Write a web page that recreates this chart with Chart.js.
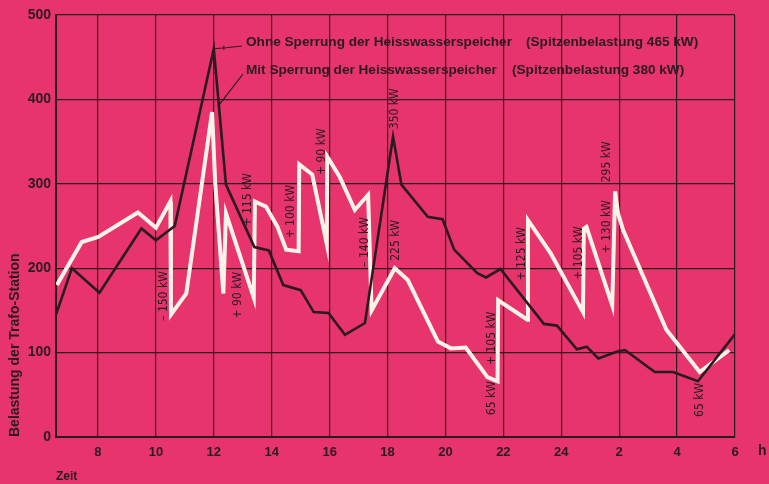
<html lang="de">

<head>
    <meta charset="UTF-8">
    <title>Belastung der Trafo-Station</title>
    <script src="https://cdn.jsdelivr.net/npm/chart.js"></script>
    <style>
        body { margin: 0; background: #e6336c; }
        #wrap { width: 769px; height: 484px; }
    </style>
</head>

<body>
    <div id="wrap"><canvas id="myChart" width="769" height="484"></canvas></div>

    <script>
        // Stunden (7 Uhr bis 6 Uhr morgens, fortlaufend gezählt: 26 = 2 Uhr usw.)
        // ohne Sperrung der Heisswasserspeicher (schwarze Linie)
        let ohneStunde = [6.55, 7.1, 8.05, 9.5, 10.0, 10.65, 12.0, 12.42, 13.4, 13.9, 14.4, 15.0, 15.45, 15.96, 16.53, 17.22, 18.19, 18.48, 19.39, 19.9, 20.3, 21.1, 21.4, 21.9, 23.4, 23.85, 24.54, 24.88, 25.28, 25.91, 26.2, 27.23, 27.86, 28.72, 30.0];
        let ohneLast = [145, 200, 171, 247, 233, 250, 460, 299, 225, 221, 180, 174, 148, 147, 121, 135, 356, 299, 261, 258, 222, 194, 189, 199, 134, 132, 104, 107, 93, 101, 103, 77, 77, 66, 122];

        // mit Sperrung der Heisswasserspeicher (weisse Linie)
        let mitStunde = [6.58, 7.44, 8.01, 9.38, 10.0, 10.5, 10.52, 11.05, 11.94, 12.05, 12.33, 12.42, 13.38, 13.42, 13.8, 14.2, 14.5, 14.93, 14.95, 15.4, 15.9, 15.92, 16.35, 16.87, 17.33, 17.45, 18.25, 18.7, 19.74, 20.19, 20.7, 21.45, 21.8, 21.82, 22.83, 22.85, 23.63, 24.75, 24.78, 24.87, 25.76, 25.86, 25.96, 26.14, 27.63, 28.78, 29.8];
        let mitLast = [180, 231, 237, 266, 248, 279, 145, 170, 385, 300, 170, 265, 165, 279, 273, 249, 222, 220, 323, 311, 229, 332, 308, 269, 287, 150, 200, 186, 113, 105, 106, 71, 66, 162, 139, 257, 218, 148, 247, 249, 156, 291, 265, 245, 127, 77, 103];

        // Achsen
        let zeitTicks = [8, 10, 12, 14, 16, 18, 20, 22, 24, 26, 28, 30];
        let lastTicks = [0, 100, 200, 300, 400, 500];

        // Beschriftungen an den Kurven (Mitte der senkrechten Texte)
        let notizText = ["– 150 kW", "+ 90 kW", "+ 115 kW", "+ 100 kW", "+ 90 kW", "– 140 kW", "350 kW", "225 kW", "65 kW", "+ 105 kW", "+ 125 kW", "+ 105 kW", "+ 130 kW", "295 kW", "65 kW"];
        let notizStunde = [10.27, 12.84, 13.17, 14.66, 15.72, 17.23, 18.26, 18.3, 21.62, 21.62, 22.65, 24.61, 25.57, 25.57, 28.8];
        let notizLast = [167, 168, 281, 267, 338, 231, 389, 233, 46, 117, 217, 218, 249, 326, 44];

        let tinte = '#2b1a22';
        let pink = '#e7346d';

        let ohnePunkte = ohneStunde.map((h, i) => ({ x: h, y: ohneLast[i] }));
        let mitPunkte = mitStunde.map((h, i) => ({ x: h, y: mitLast[i] }));

        // rosa Hintergrund
        let hintergrund = {
            id: 'hintergrund',
            beforeDraw(chart) {
                let c = chart.ctx;
                c.save();
                c.fillStyle = pink;
                c.fillRect(0, 0, chart.width, chart.height);
                c.restore();
            }
        };

        // Texte, Hinweislinien und "h"
        let texte = {
            id: 'texte',
            afterDatasetsDraw(chart) {
                let c = chart.ctx;
                let xs = chart.scales.x, ys = chart.scales.y;
                c.save();
                c.fillStyle = tinte;
                c.textAlign = 'center';
                c.textBaseline = 'middle';
                c.font = '12px "DejaVu Sans Condensed", "DejaVu Sans"';
                for (let i = 0; i < notizText.length; i++) {
                    c.save();
                    c.translate(xs.getPixelForValue(notizStunde[i]), ys.getPixelForValue(notizLast[i]));
                    c.rotate(-Math.PI / 2);
                    c.fillText(notizText[i], 0, 0);
                    c.restore();
                }

                // Legende
                c.textAlign = 'left';
                c.font = 'bold 13.6px "Liberation Sans"';
                c.fillText('Ohne Sperrung der Heisswasserspeicher', 246, 42);
                c.fillText('(Spitzenbelastung 465 kW)', 526, 42);
                c.fillText('Mit Sperrung der Heisswasserspeicher', 246, 70);
                c.fillText('(Spitzenbelastung 380 kW)', 512, 70);

                // Hinweislinien zu den Spitzen
                c.strokeStyle = tinte;
                c.lineWidth = 1.2;
                let p1x = xs.getPixelForValue(12.0), p1y = ys.getPixelForValue(460);
                c.beginPath();
                c.moveTo(p1x, p1y);
                c.lineTo(p1x + 12, p1y - 1);
                c.lineTo(242, 46);
                c.stroke();
                c.beginPath();
                c.moveTo(p1x + 10, p1y - 3);
                c.lineTo(p1x + 10, p1y + 1);
                c.stroke();
                let p2x = xs.getPixelForValue(12.15), p2y = ys.getPixelForValue(392);
                c.beginPath();
                c.moveTo(p2x, p2y);
                c.lineTo(243, 74);
                c.stroke();

                c.font = 'bold 14px "Liberation Sans"';
                c.fillText('h', 758, 451);
                c.restore();
            }
        };

        let ctx = document.getElementById("myChart").getContext("2d");
        let myChart = new Chart(ctx, {
            type: 'line',
            data: {
                datasets: [
                    {
                        label: 'Ohne Sperrung der Heisswasserspeicher',
                        data: ohnePunkte,
                        borderColor: tinte,
                        borderWidth: 2.6,
                        pointRadius: 0,
                        tension: 0,
                        order: 1
                    },
                    {
                        label: 'Mit Sperrung der Heisswasserspeicher',
                        data: mitPunkte,
                        borderColor: '#fbf3e8',
                        borderWidth: 4,
                        pointRadius: 0,
                        tension: 0,
                        order: 2
                    }]
            },
            options: {
                responsive: false,
                animation: false,
                maintainAspectRatio: false,
                layout: { padding: { top: 15, right: 34, left: 0, bottom: 0 } },
                plugins: {
                    legend: { display: false },
                    tooltip: { enabled: false }
                },
                scales: {
                    x: {
                        type: 'linear',
                        min: 6.55,
                        max: 30,
                        afterBuildTicks: (s) => { s.ticks = zeitTicks.map(v => ({ value: v })); },
                        afterFit: (s) => { s.height = 47; },
                        grid: { color: tinte, lineWidth: 1.2, drawTicks: false },
                        border: { color: tinte, width: 2 },
                        ticks: {
                            color: tinte,
                            padding: 8,
                            maxRotation: 0,
                            font: { family: 'Liberation Sans', size: 13, weight: 'bold' },
                            callback: (v) => (v > 24 ? v - 24 : v)
                        },
                        title: {
                            display: true,
                            text: 'Zeit',
                            align: 'start',
                            color: tinte,
                            padding: { top: 4, bottom: 0 },
                            font: { family: 'Liberation Sans', size: 12, weight: 'bold' }
                        }
                    },
                    y: {
                        min: 0,
                        max: 500,
                        afterBuildTicks: (s) => { s.ticks = lastTicks.map(v => ({ value: v })); },
                        afterFit: (s) => { s.width = 56; },
                        grid: { color: tinte, lineWidth: 1.2, drawTicks: false },
                        border: { color: tinte, width: 2 },
                        ticks: {
                            color: tinte,
                            padding: 5,
                            font: { family: 'Liberation Sans', size: 14, weight: 'bold' }
                        },
                        title: {
                            display: true,
                            text: 'Belastung der Trafo-Station',
                            align: 'start',
                            color: tinte,
                            padding: { top: 7, bottom: 0 },
                            font: { family: 'Liberation Sans', size: 14, weight: 'bold' }
                        }
                    }
                }
            },
            plugins: [hintergrund, texte]
        });
    </script>

</body>

</html>
